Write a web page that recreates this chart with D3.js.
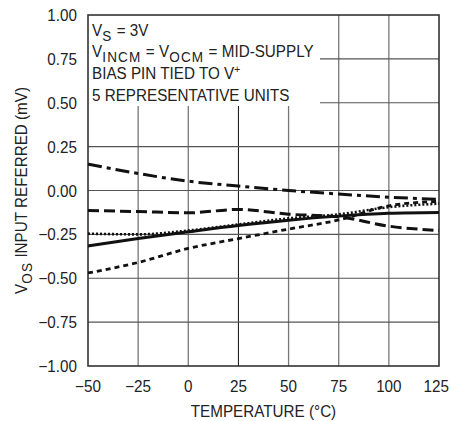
<!DOCTYPE html>
<html>
<head>
<meta charset="utf-8">
<script src="https://cdn.jsdelivr.net/npm/d3@7"></script>
<style>
  html, body { margin: 0; padding: 0; background: #fff; }
  svg { display: block; }
  text { font-family: "Liberation Sans", Arial, Helvetica, sans-serif; fill: #222; }
</style>
</head>
<body>
<svg id="chart" width="450" height="421"></svg>
<script>
// ---- data ----
const temperatures = [-50, -25, 0, 25, 50, 75, 100, 125];
const unitDashDot  = [0.150, 0.097, 0.053, 0.025, 0.000, -0.020, -0.038, -0.050];
const unitLongDash = [-0.114, -0.120, -0.127, -0.108, -0.135, -0.150, -0.203, -0.228];
const unitSolid    = [-0.316, -0.273, -0.235, -0.199, -0.169, -0.146, -0.130, -0.125];
const unitDotted   = [-0.246, -0.250, -0.228, -0.193, -0.159, -0.136, -0.095, -0.075];
const unitShortDash= [-0.470, -0.410, -0.330, -0.274, -0.220, -0.168, -0.087, -0.062];
const xTicks = [-50, -25, 0, 25, 50, 75, 100, 125];
const yTicks = [-1.00, -0.75, -0.50, -0.25, 0.00, 0.25, 0.50, 0.75, 1.00];

const series = [
  { values: unitDashDot,   dash: "14,5,4,5", width: 3 },
  { values: unitLongDash,  dash: "11,5",     width: 3 },
  { values: unitSolid,     dash: null,       width: 3 },
  { values: unitDotted,    dash: "2,2",      width: 2.6 },
  { values: unitShortDash, dash: "5,4",      width: 2.8 }
];

// ---- layout ----
const svg = d3.select("#chart");
const pL = 88, pR = 439, pT = 15, pB = 366;
const x = d3.scaleLinear().domain([-50, 125]).range([pL, pR]);
const y = d3.scaleLinear().domain([-1, 1]).range([pB, pT]);

const fmtY = v => (v < 0 ? "\u2212" : "") + Math.abs(v).toFixed(2);
const fmtX = v => (v < 0 ? "\u2212" : "") + Math.abs(v);

const fs = 16.3, sub = 14.5, sx = 0.935;
function txt(tx, ty, anchor, extra) {
  return svg.append("text")
    .attr("transform", `translate(${tx},${ty}) ${extra || ""} scale(${sx},1)`)
    .attr("text-anchor", anchor || "start")
    .attr("font-size", fs);
}
function subscript(t, s, dy) {
  t.append("tspan").attr("font-size", sub).attr("letter-spacing", 1.3)
    .attr("dy", dy).text(s);
  return t;
}

// grid
const grid = svg.append("g");
xTicks.slice(1, -1).forEach(t => {
  grid.append("line")
    .attr("x1", x(t)).attr("x2", x(t)).attr("y1", pT).attr("y2", pB)
    .attr("stroke", t === 25 ? "#111" : "#777").attr("stroke-width", t === 25 ? 1 : 1.3);
});
yTicks.slice(1, -1).forEach(t => {
  grid.append("line")
    .attr("x1", pL).attr("x2", pR).attr("y1", y(t)).attr("y2", y(t))
    .attr("stroke", "#555").attr("stroke-width", 1.2);
});

// annotation background
svg.append("rect")
  .attr("x", pL).attr("y", pT)
  .attr("width", 320 - pL).attr("height", 106 - pT)
  .attr("fill", "#fff");

// border
svg.append("rect")
  .attr("x", pL).attr("y", pT)
  .attr("width", pR - pL).attr("height", pB - pT)
  .attr("fill", "none").attr("stroke", "#333").attr("stroke-width", 1.6);

// curves
const line = d3.line()
  .x((d, i) => x(temperatures[i]))
  .y(d => y(d))
  .curve(d3.curveMonotoneX);

series.forEach(s => {
  svg.append("path")
    .attr("d", line(s.values))
    .attr("fill", "none")
    .attr("stroke", "#111")
    .attr("stroke-width", s.width)
    .attr("stroke-dasharray", s.dash);
});

// axis tick labels
yTicks.forEach(v => txt(77, y(v) + 6, "end").text(fmtY(v)));
xTicks.forEach((v, i) => {
  const last = i === xTicks.length - 1;
  txt(last ? 449 : x(v), 391.5, last ? "end" : "middle").text(fmtX(v));
});

// axis titles
txt((pL + pR) / 2, 416.5, "middle").text("TEMPERATURE (\u00B0C)");

const yt = txt(27, (pT + pB) / 2, "middle", "rotate(-90)");
yt.append("tspan").text("V");
subscript(yt, "OS", 4.5);
yt.append("tspan").attr("dy", -4.5).text(" INPUT REFERRED (mV)");

// annotation
const ax = 92;
const l1 = txt(ax, 35.8);
l1.append("tspan").text("V");
subscript(l1, "S", 5);
l1.append("tspan").attr("dy", -5).text(" = 3V");

const l2 = txt(ax, 57.4);
l2.append("tspan").text("V");
subscript(l2, "INCM", 4.5);
l2.append("tspan").attr("dy", -4.5).text(" = V");
subscript(l2, "OCM", 4.5);
l2.append("tspan").attr("dy", -4.5).text(" = MID-SUPPLY");

const l3 = txt(ax, 79);
l3.append("tspan").text("BIAS PIN TIED TO V");
l3.append("tspan").attr("font-size", 11).attr("dy", -6).text("+");

txt(ax, 100.7).text("5 REPRESENTATIVE UNITS");
</script>
</body>
</html>
